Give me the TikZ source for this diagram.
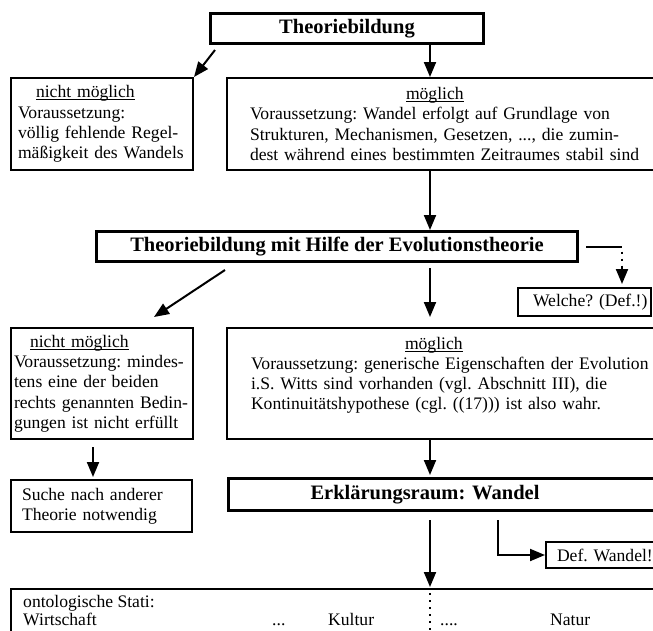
\documentclass[tikz,border=0pt]{standalone}
\usepackage{fontspec}
\setmainfont{Liberation Serif}
\usetikzlibrary{arrows.meta,calc}
\frenchspacing
\newcommand{\txt}{\fontsize{17.6}{20.3}\selectfont}
\newcommand{\fett}{\fontsize{20.5}{24}\selectfont\bfseries}
\newcommand{\unter}[1]{\setbox0\hbox{#1}\rlap{\rule[-2.5pt]{\wd0}{0.9pt}}\box0}
\tikzset{
  kasten/.style={draw, line width=2pt, anchor=north west, align=left,
    inner ysep=0pt, font=\txt},
  dickkasten/.style={kasten, line width=3pt, align=center, font=\fett},
  eintrag/.style={anchor=base west, inner sep=0pt, font=\txt},
  pfeil/.style={line width=2pt, -{Triangle[length=15pt,width=12pt]}},
  punkte/.style={line width=2.4pt, dash pattern=on 2pt off 5pt}
}
\begin{document}
\begin{tikzpicture}[x=1pt, y=-1pt]
\useasboundingbox (0,0) rectangle (653,630);
\clip (0,0) rectangle (653,630);
\coordinate (mitte) at (430,0);
\coordinate (links) at (93,0);
\coordinate (rechts) at (498,0);
\coordinate (punkt) at (622,0);

\node[dickkasten, minimum width=273pt, minimum height=30pt] (theorie)
	at (209,12) {Theoriebildung};
\node[kasten, inner xsep=7pt, text width=168pt, minimum height=92pt] (nm1)
	at (10,77) {\hspace*{18pt}\unter{nicht möglich}\\Voraussetzung:\\
	völlig fehlende Regel-\\mäßigkeit des Wandels};
\node[kasten, inner xsep=23pt, text width=420pt, minimum height=92pt] (m1)
	at (226,77) {\hspace*{156pt}\unter{möglich}\\
	Voraussetzung: Wandel erfolgt auf Grundlage von\\
	Strukturen, Mechanismen, Gesetzen, ..., die zumin-\\
	dest während eines bestimmten Zeitraumes stabil sind};
\node[dickkasten, minimum width=481pt, minimum height=30pt] (evol)
	at (95,230) {Theoriebildung mit Hilfe der Evolutionstheorie};
\node[kasten, inner xsep=0pt, text width=133pt, minimum height=28pt] (welche)
	at (517,287) {\hspace*{15pt}Welche? (Def.!)};
\node[kasten, inner xsep=3pt, text width=176pt, minimum height=111pt] (nm2)
	at (10,327) {\hspace*{16pt}\unter{nicht möglich}\\
	Voraussetzung: mindes-\\tens eine der beiden\\
	rechts genannten Bedin-\\gungen ist nicht erfüllt};
\node[kasten, inner xsep=24pt, text width=420pt, minimum height=111pt] (m2)
	at (226,327) {\hspace*{154pt}\unter{möglich}\\
	Voraussetzung: generische Eigenschaften der Evolution\\
	i.S. Witts sind vorhanden (vgl. Abschnitt III), die\\
	Kontinuitätshypothese (cgl. ((17))) ist also wahr.\\\mbox{}};
\node[kasten, inner xsep=11pt, text width=159pt, minimum height=52pt] (suche)
	at (10,479) {Suche nach anderer\\Theorie notwendig};
\node[dickkasten, align=left, inner xsep=0pt, text width=460pt,
	minimum height=32pt] (raum)
	at (227,477) {\hspace*{82pt}Erklärungsraum: Wandel};
\node[kasten, inner xsep=0pt, text width=160pt, minimum height=26pt] (def)
	at (545,541) {\hspace*{11pt}Def. Wandel!};
\node[kasten, minimum width=700pt, minimum height=100pt] (onto)
	at (10,588) {};
\node[eintrag] (stati) at (23,607) {ontologische Stati:};
\node[eintrag] (wirtschaft) at (23,625) {Wirtschaft};
\node[eintrag] (pkt1) at (272,625) {...};
\node[eintrag] (kultur) at (328,625) {Kultur};
\node[eintrag] (pkt2) at (440,625) {....};
\node[eintrag] (natur) at (550,625) {Natur};

\draw[pfeil] ($(theorie.south west)+(6,5)$) -- (nm1.north east);
\draw[pfeil] (theorie.south -| mitte) -- (m1.north -| mitte);
\draw[pfeil] (m1.south -| mitte) -- (evol.north -| mitte);
\draw[pfeil] ($(evol.south west)+(130,7)$) -- ($(nm2.north)+(52,-10)$);
\draw[pfeil] ($(evol.south -| mitte)+(0,5)$)
	-- ($(m2.north -| mitte)+(0,-10)$);
\draw[line width=2pt] ($(evol.east)+(7,0)$) -- (evol.east -| punkt);
\draw[punkte] ($(evol.east -| punkt)+(0,5)$) -- ++(0,17);
\draw[pfeil] ($(welche.north -| punkt)+(0,-20)$)
	-- ($(welche.north -| punkt)+(0,-3)$);
\draw[pfeil] ($(nm2.south -| links)+(0,7)$)
	-- ($(suche.north -| links)+(0,-2)$);
\draw[pfeil] (m2.south -| mitte) -- ($(raum.north -| mitte)+(0,-2)$);
\draw[pfeil] ($(raum.south -| mitte)+(0,8)$)
	-- ($(onto.north -| mitte)+(0,-1)$);
\draw[pfeil] ($(raum.south -| rechts)+(0,8)$) |- (def.west);
\draw[punkte] ($(onto.north -| mitte)+(0,5)$) -- (onto.south -| mitte);
\end{tikzpicture}
\end{document}
